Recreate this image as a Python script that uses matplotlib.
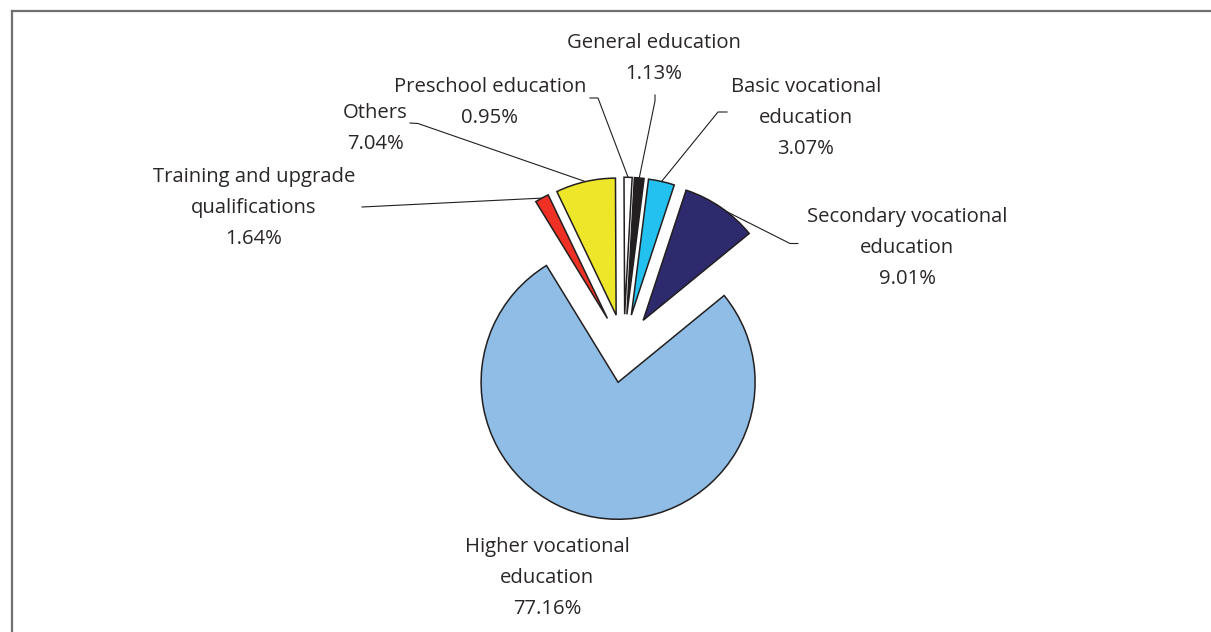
import matplotlib
matplotlib.use("Agg")
import matplotlib.pyplot as plt
import numpy as np
from matplotlib.lines import Line2D

# ---------------- data ----------------
categories = ["Secondary vocational\neducation", "Basic vocational\neducation",
              "General education", "Preschool education", "Others",
              "Training and upgrade\nqualifications", "Higher vocational\neducation"]
values = [9.01, 3.07, 1.13, 0.95, 7.04, 1.64, 77.16]
value_labels = ["9.01%", "3.07%", "1.13%", "0.95%", "7.04%", "1.64%", "77.16%"]
colors = ["#2E2A6E", "#22C1EF", "#231F20", "#FFFFFF", "#EEE629", "#EE3124", "#8FBDE5"]

# ---------------- layout (pixel coords, image y downward) ----------------
W, H = 1211, 632
pie_center = (623.8, 348.5)
pie_radius = 137
explode_px = 34.25
start_angle = 39.3

# label: (center x, first baseline y)
label_pos = [(907, 222), (806, 92), (654, 48), (490, 92), (375, 118), (254, 182), (547, 552)]
line_gap = 30.8
# leader knee points (label side) for each category (None for no leader)
leaders = [[(798, 243.5), (790, 243.5)],
           [(727, 112), (718, 112)],
           [(655, 95), (655, 101)],
           [(590, 98), (598, 98)],
           [(410, 123), (418, 123.5)],
           [(362, 207)],
           None]
# where on each wedge's outer arc the leader touches (fraction from theta1)
leader_frac = [0.41, 0.5, 0.5, 0.5, 0.5, 0.5, 0.5]

text_color = "#2A2627"

def Y(y):
    return H - y

fig = plt.figure(figsize=(W / 100, H / 100), dpi=100)
ax = fig.add_axes([0, 0, 1, 1])

wedges, _ = ax.pie(values, colors=colors, startangle=start_angle, counterclock=True,
                   radius=pie_radius, center=(pie_center[0], Y(pie_center[1])),
                   explode=[explode_px] * len(values),
                   wedgeprops=dict(edgecolor="#231F20", linewidth=1.1))

ax.set_xlim(0, W)
ax.set_ylim(0, H)
ax.set_aspect("equal")
ax.axis("off")

# labels
for cat, vl, (cx, by) in zip(categories, value_labels, label_pos):
    lines = cat.split("\n") + [vl]
    for i, ln in enumerate(lines):
        ax.text(cx, Y(by + i * line_gap), ln, ha="center", va="baseline",
                fontsize=14.6, family=["Open Sans", "DejaVu Sans"], color=text_color)

# leader lines
for w, pts, fr in zip(wedges, leaders, leader_frac):
    if pts is None:
        continue
    ang = np.deg2rad(w.theta1 + fr * (w.theta2 - w.theta1))
    ex = w.center[0] + w.r * np.cos(ang)
    ey = w.center[1] + w.r * np.sin(ang)
    xs = [p[0] for p in pts] + [ex]
    ys = [Y(p[1]) for p in pts] + [ey]
    ax.plot(xs, ys, color="#231F20", lw=0.8, zorder=0.5)

# outer frame (top and left edges)
fig.add_artist(Line2D([12 / W, 1.0], [Y(11) / H, Y(11) / H], color="#707070", lw=1.6))
fig.add_artist(Line2D([12 / W, 12 / W], [0, Y(11) / H], color="#707070", lw=1.6))

fig.savefig("out.png", dpi=100, facecolor="white")
